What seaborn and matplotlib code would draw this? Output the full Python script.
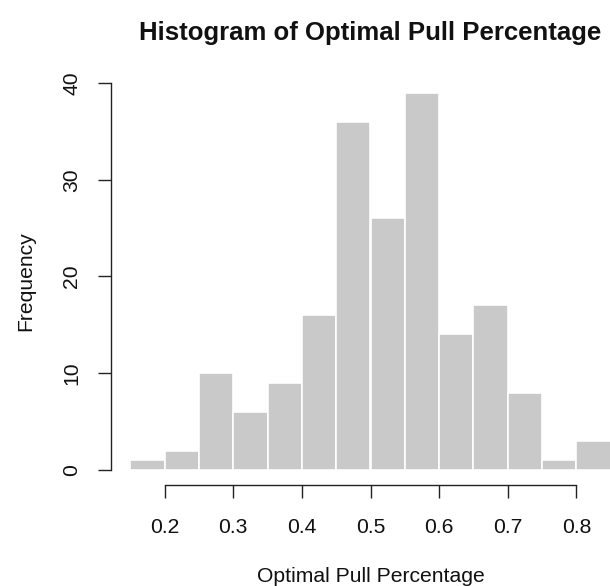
import numpy as np
import pandas as pd
import matplotlib
matplotlib.use("Agg")
import matplotlib.pyplot as plt
import seaborn as sns

# Bin edges and counts
bin_edges = [0.15, 0.20, 0.25, 0.30, 0.35, 0.40, 0.45, 0.50,
             0.55, 0.60, 0.65, 0.70, 0.75, 0.80, 0.85]
counts = [1, 2, 10, 6, 9, 16, 36, 26, 39, 14, 17, 8, 1, 3]
x_ticks = [0.2, 0.3, 0.4, 0.5, 0.6, 0.7, 0.8]
x_tick_labels = ["0.2", "0.3", "0.4", "0.5", "0.6", "0.7", "0.8"]
y_ticks = [0, 10, 20, 30, 40]
y_tick_labels = ["0", "10", "20", "30", "40"]

# one row per bin, weighted by the count
centers = [(a + b) / 2 for a, b in zip(bin_edges[:-1], bin_edges[1:])]
df = pd.DataFrame({"pull": centers, "n": counts})

sns.set_style("white")
plt.rcParams["font.family"] = ["Liberation Sans", "DejaVu Sans"]

W, H = 610, 586
fig = plt.figure(figsize=(W / 100, H / 100), dpi=100)
# plot region in pixels (R style, runs past the right edge of the image)
left, right, top, bottom = 111, 630, 77.6, 485
ax = fig.add_axes([left / W, 1 - bottom / H, (right - left) / W, (bottom - top) / H])

sns.histplot(data=df, x="pull", weights="n", bins=bin_edges, ax=ax,
             color="#c9c9c9", edgecolor="white", linewidth=1.2, alpha=1)

ax.set_xlim(0.122, 0.878)
ax.set_ylim(-1.56, 40.56)

for s in ["top", "right"]:
    ax.spines[s].set_visible(False)
for s in ["left", "bottom"]:
    ax.spines[s].set_color("#222222")
    ax.spines[s].set_linewidth(1.0)
ax.spines["left"].set_bounds(0, 40)
ax.spines["bottom"].set_bounds(0.2, 0.8)

ax.set_xticks(x_ticks, labels=x_tick_labels)
ax.set_yticks(y_ticks, labels=y_tick_labels)
for lab in ax.get_yticklabels():
    lab.set_rotation(90)
    lab.set_va("center")
ax.tick_params(axis="both", direction="out", length=9.5, width=1.0,
               color="#222222", labelsize=15.2, labelcolor="#111111",
               left=True, bottom=True)
ax.tick_params(axis="x", pad=14)
ax.tick_params(axis="y", pad=12)
ax.set_xlabel("")
ax.set_ylabel("")

cx = (left + right) / 2 / W
fig.text(cx, 1 - 33 / H, "Histogram of Optimal Pull Percentage",
         ha="center", va="center", fontsize=18.5, fontweight="bold", color="#111111")
fig.text(cx, 1 - 577 / H, "Optimal Pull Percentage",
         ha="center", va="center", fontsize=15.2, color="#111111")
fig.text(26 / W, 1 - 281 / H, "Frequency", rotation=90,
         ha="center", va="center", fontsize=15.2, color="#111111")

fig.savefig("out.png", dpi=100)
